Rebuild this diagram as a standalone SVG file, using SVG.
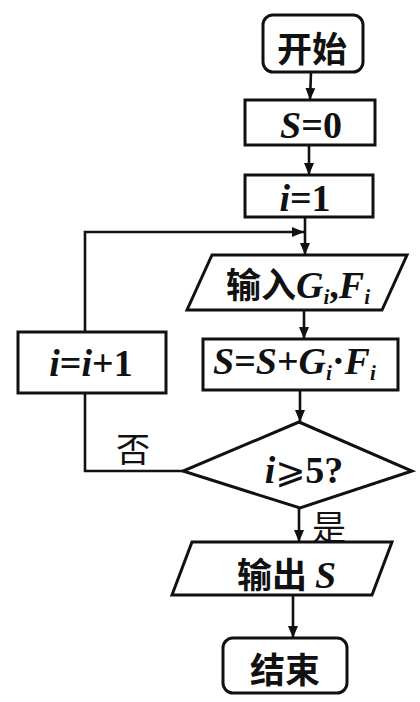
<svg xmlns="http://www.w3.org/2000/svg" width="420" height="702" viewBox="0 0 420 702">
<style>
.shape{fill:none;stroke:#111;stroke-width:3;stroke-linejoin:miter}
.line{fill:none;stroke:#111;stroke-width:2.6}
.cjk{font-family:"Noto Sans CJK SC","Noto Sans",sans-serif;font-weight:bold;font-size:35px;fill:#111}
.cjkn{font-family:"Noto Sans CJK SC","Noto Sans",sans-serif;font-weight:normal;font-size:34px;fill:#111}
.m{font-family:"Liberation Serif","Times New Roman",serif;font-weight:bold;font-size:38px;fill:#111}
.it{font-style:italic}
.sub{font-size:21px}
</style>
<defs>
<marker id="ah" viewBox="0 0 12 10" refX="12" refY="5" markerWidth="12" markerHeight="10" markerUnits="userSpaceOnUse" orient="auto">
<path d="M0,0 L12,5 L0,10 Z" fill="#111"/>
</marker>
</defs>
<rect width="420" height="702" fill="#ffffff"/>
<g id="connectors">
<line class="line" x1="311" y1="72" x2="310" y2="100" marker-end="url(#ah)"/>
<line class="line" x1="309" y1="145" x2="309" y2="175" marker-end="url(#ah)"/>
<line class="line" x1="305" y1="217" x2="305" y2="255" marker-end="url(#ah)"/>
<line class="line" x1="304" y1="310" x2="304" y2="339" marker-end="url(#ah)"/>
<line class="line" x1="300" y1="390" x2="300" y2="422" marker-end="url(#ah)"/>
<line class="line" x1="299" y1="508" x2="299" y2="542" marker-end="url(#ah)"/>
<line class="line" x1="293" y1="595" x2="293" y2="638" marker-end="url(#ah)"/>
<polyline class="line" points="183,471 85,471 85,393"/>
<polyline class="line" points="85,332 85,232 304,232" marker-end="url(#ah)"/>
<text class="cjkn" x="116" y="462">否</text>
<text class="cjkn" x="312" y="540">是</text>
</g>
<g id="start">
<rect class="shape" x="263" y="15" width="100" height="57" rx="10"/>
<text class="cjk" x="312" y="62" text-anchor="middle">开始</text>
</g>
<g id="s0">
<rect class="shape" x="245" y="100" width="130" height="45"/>
<text class="m" x="311" y="138" text-anchor="middle"><tspan class="it">S</tspan>=0</text>
</g>
<g id="i1">
<rect class="shape" x="245" y="175" width="128" height="42"/>
<text class="m" x="305" y="211" text-anchor="middle"><tspan class="it">i</tspan>=1</text>
</g>
<g id="input">
<polygon class="shape" points="212,255 407,255 382,310 187,310"/>
<text class="cjk" x="226" y="298">输入<tspan class="m it">G</tspan><tspan class="m it sub" dy="6">i</tspan><tspan class="m" dy="-6">,</tspan><tspan class="m it">F</tspan><tspan class="m it sub" dy="6">i</tspan></text>
</g>
<g id="accum">
<rect class="shape" x="203" y="339" width="195" height="51"/>
<text class="m" x="213" y="374"><tspan class="it">S</tspan>=<tspan class="it">S</tspan>+<tspan class="it">G</tspan><tspan class="it sub" dy="6">i</tspan><tspan dy="-6">·</tspan><tspan class="it">F</tspan><tspan class="it sub" dy="6">i</tspan></text>
</g>
<g id="inc">
<rect class="shape" x="18" y="332" width="148" height="61"/>
<text class="m" x="91" y="376" text-anchor="middle"><tspan class="it">i</tspan>=<tspan class="it">i</tspan>+1</text>
</g>
<g id="decision">
<polygon class="shape" points="299,422 412,471 300,508 183,471"/>
<text class="m" x="304" y="483" text-anchor="middle"><tspan class="it">i</tspan><tspan font-family="DejaVu Sans" font-weight="normal" font-size="36">⩾</tspan>5?</text>
</g>
<g id="output">
<polygon class="shape" points="192,542 392,542 372,595 172,595"/>
<text class="cjk" x="237" y="588">输出 <tspan class="m it">S</tspan></text>
</g>
<g id="end">
<rect class="shape" x="223" y="638" width="124" height="55" rx="10"/>
<text class="cjk" x="285" y="683" text-anchor="middle">结束</text>
</g>
</svg>
